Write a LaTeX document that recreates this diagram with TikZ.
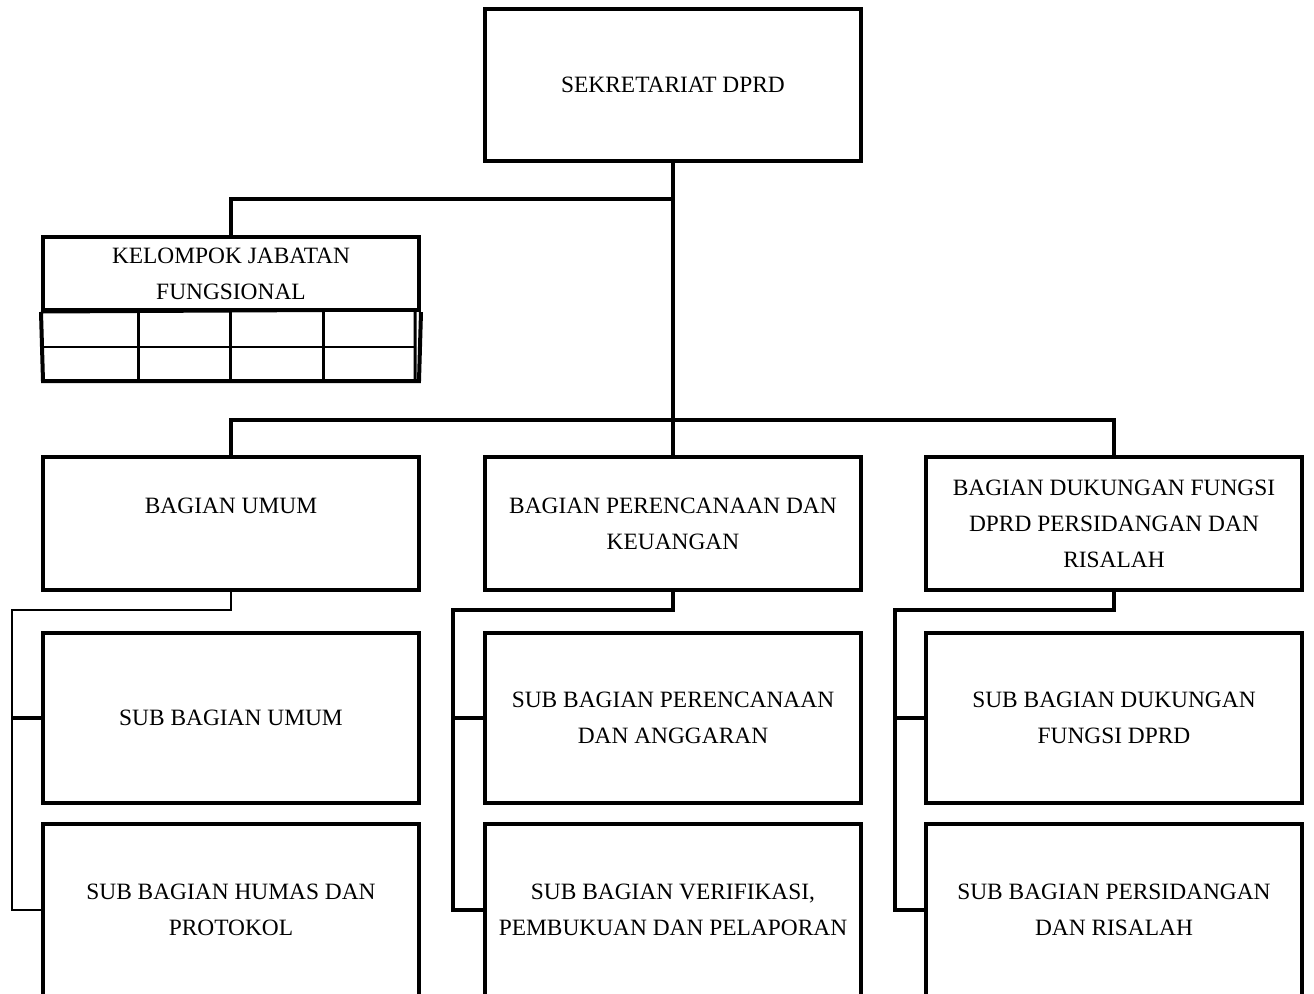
\documentclass[tikz,border=0pt]{standalone}
\usepackage{fontspec}
\setmainfont{Liberation Serif}
\begin{document}
\begin{tikzpicture}[x=0.5pt,y=-0.5pt,
  box/.style={draw, line width=2pt, align=center, minimum width=188pt, inner sep=0pt,
              font=\fontsize{11.7}{18}\selectfont},
  conn/.style={line width=2pt},
  thinconn/.style={line width=1.2pt},
  tline/.style={line width=1.5pt},
  hline/.style={line width=1pt}]
\clip (0,0) rectangle (1314,993);
\fill[white] (0,0) rectangle (1314,993);
% top
\node[box, minimum height=76pt] (top) at (673,85) {SEKRETARIAT DPRD};
% kelompok jabatan fungsional
\node[box, minimum height=36.5pt] (kjf) at (231,273.5) {KELOMPOK JABATAN\\FUNGSIONAL};
\draw[line width=2pt] (kjf.south west) -- (43,381) -- (419,381) -- (kjf.south east);
\draw[tline] (kjf.south west) -- (415,310) -- (415,381);
\draw[hline] (43,347) -- (415,347);
\foreach \x in {138,230,323} \draw[tline] (\x,310) -- (\x,381);
% level 2
\node[box, minimum height=66.5pt] (b1) at (231,523.5) {BAGIAN UMUM\\\phantom{BAGIAN}};
\node[box, minimum height=66.5pt] (b2) at (673,523.5) {BAGIAN PERENCANAAN DAN\\KEUANGAN};
\node[box, minimum height=66.5pt] (b3) at (1114,523.5) {BAGIAN DUKUNGAN FUNGSI\\DPRD PERSIDANGAN DAN\\RISALAH};
% level 3
\node[box, minimum height=85pt] (s11) at (231,718) {SUB BAGIAN UMUM};
\node[box, minimum height=86pt] (s12) at (231,910) {SUB BAGIAN HUMAS DAN\\PROTOKOL};
\node[box, minimum height=85pt] (s21) at (673,718) {SUB BAGIAN PERENCANAAN\\DAN ANGGARAN};
\node[box, minimum height=86pt] (s22) at (673,910) {SUB BAGIAN VERIFIKASI,\\PEMBUKUAN DAN PELAPORAN};
\node[box, minimum height=85pt] (s31) at (1114,718) {SUB BAGIAN DUKUNGAN\\FUNGSI DPRD};
\node[box, minimum height=86pt] (s32) at (1114,910) {SUB BAGIAN PERSIDANGAN\\DAN RISALAH};
% junction coordinates
\coordinate (jk) at (673,199);
\coordinate (bus) at (673,420);
\coordinate (L1) at (12,610);
\coordinate (L2) at (453,610);
\coordinate (L3) at (895,610);
% connectors
\draw[conn] (top.south) -- (b2.north);
\draw[conn] (kjf.north) |- (jk);
\draw[conn] (b1.north) |- (bus) -| (b3.north);
\draw[thinconn] (b1.south) |- (L1) -- (L1 |- s12.west) -- (s12.west);
\draw[conn] (L1 |- s11.west) -- (s11.west);
\draw[conn] (b2.south) |- (L2) -- (L2 |- s22.west) -- (s22.west);
\draw[conn] (L2 |- s21.west) -- (s21.west);
\draw[conn] (b3.south) |- (L3) -- (L3 |- s32.west) -- (s32.west);
\draw[conn] (L3 |- s31.west) -- (s31.west);
\end{tikzpicture}
\end{document}
